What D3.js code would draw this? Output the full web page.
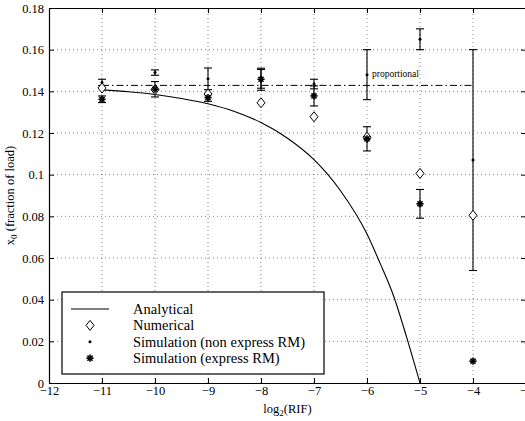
<!DOCTYPE html>
<html>
<head>
<meta charset="utf-8">
<script src="https://cdn.jsdelivr.net/npm/d3@7"></script>
<style>
  body { margin: 0; background: #fff; }
  svg text { font-family: "Liberation Serif", "DejaVu Serif", serif !important; fill: #000; }
</style>
</head>
<body>
<div id="chart"></div>
<script>
// データ
const xTicks = [-12, -11, -10, -9, -8, -7, -6, -5, -4, -3];
const yTicks = [0, 0.02, 0.04, 0.06, 0.08, 0.1, 0.12, 0.14, 0.16, 0.18];

// 解析解 (読み取り値)
const analyticalX = [-11, -10.5, -10, -9.5, -9, -8.5, -8, -7.5, -7, -6.5, -6, -5.75, -5.5, -5.25, -5];
const analyticalY = [0.1407, 0.1398, 0.1385, 0.1366, 0.1340, 0.1303, 0.1250, 0.1175, 0.1072, 0.0923, 0.0715, 0.0573, 0.0419, 0.0218, 0];

// 数値解
const numX = [-11, -10, -9, -8, -7, -6, -5, -4];
const numY = [0.1416, 0.1408, 0.1387, 0.1345, 0.1278, 0.1180, 0.1006, 0.0805];

// シミュレーション (非エクスプレス RM)
const simX = [-11, -10, -9, -8, -7, -6, -5, -4];
const simY = [0.1443, 0.1490, 0.1460, 0.1460, 0.1435, 0.1480, 0.1650, 0.1070];
const simErr = [0.0015, 0.0013, 0.0052, 0.0045, 0.0023, 0.0120, 0.0050, 0.0530];

// シミュレーション (エクスプレス RM)
const expX = [-11, -10, -9, -8, -7, -6, -5, -4];
const expY = [0.1362, 0.1410, 0.1370, 0.1458, 0.1378, 0.1172, 0.0860, 0.0105];
const expErr = [0.0016, 0.0037, 0.0018, 0.0053, 0.0048, 0.0058, 0.0069, 0];

// 比例線
const propX = [-11, -4];
const propY = [1 / 7, 1 / 7];

const width = 525, height = 421;
const margin = { left: 49, right: -1, top: 8, bottom: 38 };
const serif = '"Liberation Serif", "DejaVu Serif", serif';

const svg = d3.select('#chart').append('svg')
    .attr('width', width)
    .attr('height', height)
    .attr('font-family', serif);

const x = d3.scaleLinear().domain([-12, -3]).range([margin.left, width - margin.right]);
const y = d3.scaleLinear().domain([0, 0.18]).range([height - margin.bottom, margin.top]);

// グリッド
svg.append('g').selectAll('line')
    .data(xTicks.slice(1, -1))
    .join('line')
    .attr('x1', d => x(d)).attr('x2', d => x(d))
    .attr('y1', y(0)).attr('y2', y(0.18))
    .attr('stroke', '#666').attr('stroke-width', 0.8)
    .attr('stroke-dasharray', '1,3');
svg.append('g').selectAll('line')
    .data(yTicks.slice(1, -1))
    .join('line')
    .attr('x1', x(-12)).attr('x2', x(-3))
    .attr('y1', d => y(d)).attr('y2', d => y(d))
    .attr('stroke', '#666').attr('stroke-width', 0.8)
    .attr('stroke-dasharray', '1,3');

// 軸
const fmtY = d => String(+d.toFixed(2));
const fmtX = d => d < 0 ? '\u2212' + Math.abs(d) : String(d);

const axB = svg.append('g').attr('transform', `translate(0,${y(0)})`)
    .call(d3.axisBottom(x).tickValues(xTicks).tickFormat(fmtX).tickSizeInner(-5).tickSizeOuter(0).tickPadding(6));
const axT = svg.append('g').attr('transform', `translate(0,${y(0.18)})`)
    .call(d3.axisTop(x).tickValues(xTicks).tickFormat('').tickSizeInner(-5).tickSizeOuter(0));
const axL = svg.append('g').attr('transform', `translate(${x(-12)},0)`)
    .call(d3.axisLeft(y).tickValues(yTicks).tickFormat(fmtY).tickSizeInner(-5).tickSizeOuter(0).tickPadding(5));
const axR = svg.append('g').attr('transform', `translate(${x(-3)},0)`)
    .call(d3.axisRight(y).tickValues(yTicks).tickFormat('').tickSizeInner(-5).tickSizeOuter(0));

[axB, axT, axL, axR].forEach(a => {
    a.attr('font-family', serif).attr('font-size', 12);
    a.select('.domain').attr('stroke', '#000').attr('stroke-width', 1.2);
    a.selectAll('.tick line').attr('stroke', '#000');
    a.selectAll('text').style('font-family', serif).style('font-size', '12.5px');
});
axB.selectAll('text').attr('dy', '0.5em');

// 比例線
svg.append('path')
    .datum(propX.map((d, i) => [d, propY[i]]))
    .attr('d', d3.line().x(d => x(d[0])).y(d => y(d[1])))
    .attr('fill', 'none').attr('stroke', '#000').attr('stroke-width', 1)
    .attr('stroke-dasharray', '7,3,1.5,3');
svg.append('text')
    .attr('x', x(-6) + 5).attr('y', y(0.1487) + 4)
    .style('font-size', '9.5px')
    .text('proportional');

// 解析解
svg.append('path')
    .datum(analyticalX.map((d, i) => [d, analyticalY[i]]))
    .attr('d', d3.line().x(d => x(d[0])).y(d => y(d[1])).curve(d3.curveMonotoneX))
    .attr('fill', 'none').attr('stroke', '#000').attr('stroke-width', 1.1);

// エラーバー
function errorBars(xs, ys, errs) {
    const g = svg.append('g').attr('stroke', '#000').attr('stroke-width', 1.1);
    xs.forEach((xv, i) => {
        if (!errs[i]) return;
        const cx = x(xv);
        const y1 = y(ys[i] + errs[i]), y2 = y(ys[i] - errs[i]);
        g.append('line').attr('x1', cx).attr('x2', cx).attr('y1', y1).attr('y2', y2);
        g.append('line').attr('x1', cx - 4).attr('x2', cx + 4).attr('y1', y1).attr('y2', y1);
        g.append('line').attr('x1', cx - 4).attr('x2', cx + 4).attr('y1', y2).attr('y2', y2);
    });
}
errorBars(simX, simY, simErr);
errorBars(expX, expY, expErr);

// マーカー
function diamond(g, cx, cy) {
    g.append('path')
        .attr('d', `M${cx},${cy - 5}L${cx + 4},${cy}L${cx},${cy + 5}L${cx - 4},${cy}Z`)
        .attr('fill', '#fff').attr('stroke', '#000').attr('stroke-width', 1);
}
function star(g, cx, cy) {
    const r = 3.6;
    const s = g.append('g').attr('stroke', '#000').attr('stroke-width', 1.6);
    [0, 45, 90, 135].forEach(a => {
        const t = a * Math.PI / 180;
        s.append('line')
            .attr('x1', cx - r * Math.cos(t)).attr('y1', cy - r * Math.sin(t))
            .attr('x2', cx + r * Math.cos(t)).attr('y2', cy + r * Math.sin(t));
    });
}
function dot(g, cx, cy) {
    g.append('circle').attr('cx', cx).attr('cy', cy).attr('r', 1.5).attr('fill', '#000');
}

const marks = svg.append('g');
numX.forEach((d, i) => diamond(marks, x(d), y(numY[i])));
expX.forEach((d, i) => star(marks, x(d), y(expY[i])));
simX.forEach((d, i) => dot(marks, x(d), y(simY[i])));

// ラベル
svg.append('text')
    .attr('x', (x(-12) + x(-3)) / 2).attr('y', 413)
    .attr('text-anchor', 'middle')
    .style('font-size', '12.5px')
    .html('log<tspan dy="3" font-size="9px">2</tspan><tspan dy="-3">(RIF)</tspan>');

svg.append('text')
    .attr('transform', `translate(14,${(y(0) + y(0.18)) / 2}) rotate(-90)`)
    .attr('text-anchor', 'middle')
    .style('font-size', '12.5px')
    .html('x<tspan dy="3" font-size="9px">0</tspan><tspan dy="-3"> (fraction of load)</tspan>');

// 凡例
const legendItems = ['Analytical', 'Numerical', 'Simulation (non express RM)', 'Simulation (express RM)'];
const lg = svg.append('g');
lg.append('rect')
    .attr('x', 62).attr('y', 292).attr('width', 262).attr('height', 82)
    .attr('fill', '#fff').attr('stroke', '#000').attr('stroke-width', 1.2);
legendItems.forEach((name, i) => {
    const ly = 309 + i * 16.4;
    if (i === 0) {
        lg.append('line').attr('x1', 71).attr('x2', 109).attr('y1', ly).attr('y2', ly)
            .attr('stroke', '#000').attr('stroke-width', 1.1);
    } else if (i === 1) diamond(lg, 90, ly);
    else if (i === 2) dot(lg, 90, ly);
    else star(lg, 90, ly);
    lg.append('text').attr('x', 133).attr('y', ly + 5)
        .style('font-size', '14.5px').text(name);
});
</script>
</body>
</html>
